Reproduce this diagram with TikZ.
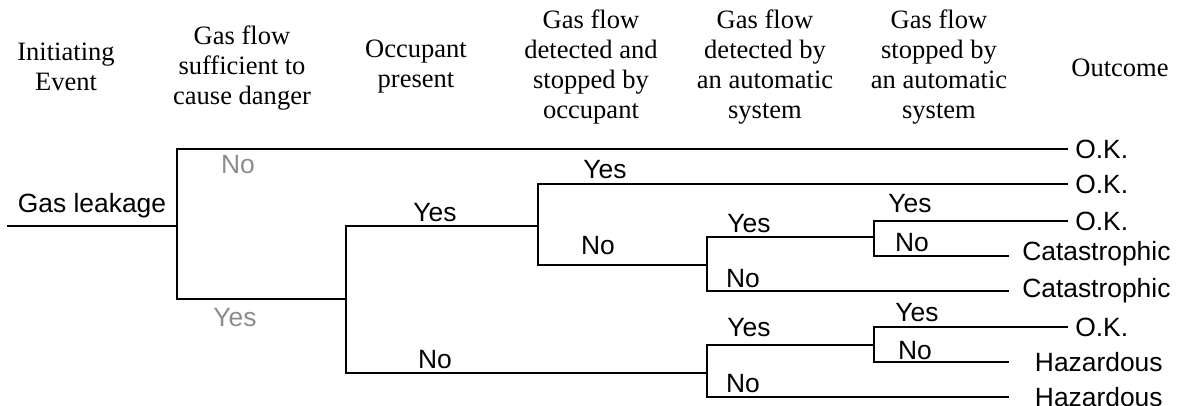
\documentclass[tikz,border=0pt]{standalone}
\usepackage{fontspec}
\setmainfont{Liberation Serif}
\setsansfont{Liberation Sans}
\usetikzlibrary{positioning}
\definecolor{branchgrey}{RGB}{138,140,142}

\begin{document}
\begin{tikzpicture}[
  x=0.75pt, y=-0.75pt,
  head/.style={align=center, font=\fontsize{19.9}{22.5}\selectfont},
  branch/.style={anchor=base, inner sep=0pt, font=\sffamily\fontsize{19.8}{22}\selectfont},
  faint/.style={branch, text=branchgrey},
  okout/.style={anchor=west, inner ysep=0pt, inner xsep=6pt, font=\sffamily\fontsize{19.8}{22}\selectfont},
  catout/.style={okout, inner xsep=10.5pt},
  hazout/.style={okout, inner xsep=20pt},
  tree/.style={line width=1.1pt, line cap=rect}
]
\useasboundingbox (0,0) rectangle (1178,405);

% column headings
\node[head] (hinit) at (66,67) {Initiating\\Event};
\node[head] (hdanger) at (242,68) {Gas flow\\sufficient to\\cause danger};
\node[head] (hocc) at (416,67) {Occupant\\present};
\node[head] (hman) at (591,67) {Gas flow\\detected and\\stopped by\\occupant};
\node[head] (hdet) at (765,67) {Gas flow\\detected by\\an automatic\\system};
\node[head] (hstop) at (939,67) {Gas flow\\stopped by\\an automatic\\system};
\node[head] (hout) at (1120,68) {Outcome};

% junctions
\coordinate (start) at (8,226);
\coordinate (dng) at (177,226);
\coordinate (dngno) at (177,149);
\coordinate (dngyes) at (177,299);
\coordinate (occ) at (346,299);
\coordinate (occyes) at (346,226);
\coordinate (occno) at (346,373);
\coordinate (man) at (538,226);
\coordinate (manyes) at (538,184);
\coordinate (manno) at (538,265);
\coordinate (detA) at (707,265);
\coordinate (detAyes) at (707,237);
\coordinate (detAno) at (707,291);
\coordinate (stopA) at (874,237);
\coordinate (stopAyes) at (874,221);
\coordinate (stopAno) at (874,256);
\coordinate (detB) at (707,373);
\coordinate (detByes) at (707,345);
\coordinate (detBno) at (707,397);
\coordinate (stopB) at (874,345);
\coordinate (stopByes) at (874,327);
\coordinate (stopBno) at (874,362);

% outcomes
\node[okout] (ok1) at (1067,149) {O.K.};
\node[okout] (ok2) at (1067,184) {O.K.};
\node[okout] (ok3) at (1067,221) {O.K.};
\node[catout, text depth=7pt] (cat1) at (1008,256) {Catastrophic};
\node[catout] (cat2) at (1008,291) {Catastrophic};
\node[okout] (ok4) at (1067,327) {O.K.};
\node[hazout] (haz1) at (1008,362) {Hazardous};
\node[hazout] (haz2) at (1008,397) {Hazardous};

% the tree
\draw[tree] (start) -- (dng);
\draw[tree] (dngno) -- (dngyes);
\draw[tree] (dngno) -- (ok1);
\draw[tree] (dngyes) -- (occ);
\draw[tree] (occyes) -- (occno);
\draw[tree] (occyes) -- (man);
\draw[tree] (manyes) -- (manno);
\draw[tree] (manyes) -- (ok2);
\draw[tree] (manno) -- (detA);
\draw[tree] (detAyes) -- (detAno);
\draw[tree] (detAyes) -- (stopA);
\draw[tree] (stopAyes) -- (stopAno);
\draw[tree] (stopAyes) -- (ok3);
\draw[tree] (stopAno) -- (stopAno -| cat1.west);
\draw[tree] (detAno) -- (cat2);
\draw[tree] (occno) -- (detB);
\draw[tree] (detByes) -- (detBno);
\draw[tree] (detByes) -- (stopB);
\draw[tree] (stopByes) -- (stopBno);
\draw[tree] (stopByes) -- (ok4);
\draw[tree] (stopBno) -- (haz1);
\draw[tree] (detBno) -- (haz2);

% branch labels
\node[branch] (leak) at (92,212) {Gas leakage};
\node[faint] (dnglno) at (238,173) {No};
\node[faint] (dnglyes) at (235,326) {Yes};
\node[branch] (occlyes) at (435,221) {Yes};
\node[branch] (occlno) at (435,368) {No};
\node[branch] (manlyes) at (605,178) {Yes};
\node[branch] (manlno) at (598,254) {No};
\node[branch] (detAlyes) at (749,232) {Yes};
\node[branch] (detAlno) at (743,287) {No};
\node[branch] (detBlyes) at (749,336) {Yes};
\node[branch] (detBlno) at (743,392) {No};
\node[branch] (stopAlyes) at (910,212) {Yes};
\node[branch] (stopAlno) at (912,251) {No};
\node[branch] (stopBlyes) at (917,321) {Yes};
\node[branch] (stopBlno) at (915,359) {No};
\end{tikzpicture}
\end{document}
